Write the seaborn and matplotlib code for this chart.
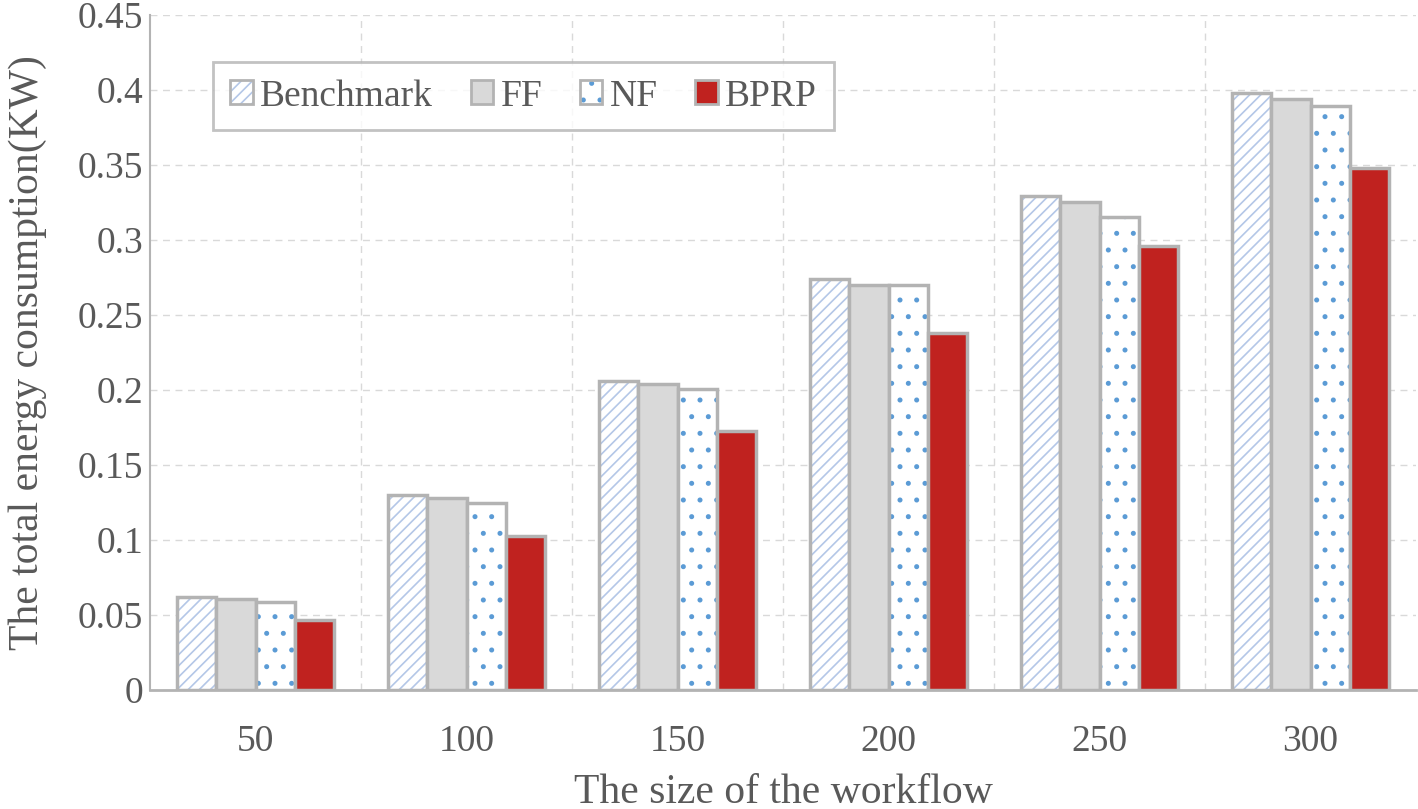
import numpy as np
import pandas as pd
import matplotlib
matplotlib.use("Agg")
import matplotlib.pyplot as plt
from matplotlib.patches import Patch
from matplotlib.colors import to_rgba
import seaborn as sns

sizes = ["50", "100", "150", "200", "250", "300"]
methods = ["Benchmark", "FF", "NF", "BPRP"]
benchmark = [0.062, 0.130, 0.206, 0.274, 0.329, 0.398]
ff = [0.061, 0.128, 0.204, 0.270, 0.325, 0.394]
nf = [0.059, 0.125, 0.201, 0.270, 0.315, 0.389]
bprp = [0.047, 0.103, 0.173, 0.238, 0.296, 0.348]
yticks = [0, 0.05, 0.1, 0.15, 0.2, 0.25, 0.3, 0.35, 0.4, 0.45]

df = pd.DataFrame({
    "size": sizes * 4,
    "method": sum([[m] * len(sizes) for m in methods], []),
    "value": benchmark + ff + nf + bprp,
})

sns.set_theme(style="white")
plt.rcParams["font.family"] = ["Liberation Serif", "DejaVu Serif"]
plt.rcParams["hatch.linewidth"] = 1.2
txt = "#595959"
edge = "#b3b3b3"

fig = plt.figure(figsize=(14.18, 8.09), dpi=100)
ax = fig.add_axes([0.1058, 0.147, 0.8928, 0.8345])

face = {"Benchmark": "white", "FF": "#d9d9d9", "NF": "white", "BPRP": "#c0221f"}
hatch = {"Benchmark": "///", "FF": "", "NF": ".", "BPRP": ""}
hcol = {"Benchmark": "#b4c7e7", "FF": "#d9d9d9", "NF": "#5b9bd5", "BPRP": "#c0221f"}

sns.barplot(data=df, x="size", y="value", hue="method", order=sizes,
            hue_order=methods, width=0.74, gap=0, palette=face,
            edgecolor=edge, linewidth=2.5, ax=ax, legend=False, saturation=1)

for i, cont in enumerate(ax.containers):
    m = methods[i]
    for p in cont:
        p.set_facecolor(face[m])
        p.set_edgecolor(edge)
        p.set_linewidth(2.5)
        if hatch[m]:
            p.set_hatch(hatch[m])
            p._hatch_color = to_rgba(hcol[m])

ax.set_xlim(-0.5, 5.5)
ax.set_ylim(0, 0.45)
ax.set_yticks(yticks)
ax.set_yticklabels([f"{v:g}" for v in yticks])
ax.set_xticks(range(len(sizes)))
ax.set_xticklabels(sizes)
ax.set_xticks(np.arange(0.5, 5.5, 1.0), minor=True)
ax.grid(axis="y", which="major", color="#d9d9d9", linestyle=(0, (5, 4)), linewidth=1)
ax.grid(axis="x", which="minor", color="#d9d9d9", linestyle=(0, (5, 4)), linewidth=1)
ax.grid(axis="x", which="major", visible=False)
ax.set_axisbelow(True)
ax.tick_params(axis="both", which="both", length=0, labelsize=27, colors=txt)
ax.tick_params(axis="x", pad=25)
ax.tick_params(axis="y", pad=5)

for s in ["top", "right"]:
    ax.spines[s].set_visible(False)
ax.spines["left"].set_color(edge)
ax.spines["left"].set_linewidth(1.5)
ax.spines["bottom"].set_color(edge)
ax.spines["bottom"].set_linewidth(2)

ax.set_xlabel("The size of the workflow", fontsize=30, color=txt, labelpad=10)
ax.set_ylabel("The total energy consumption(KW)", fontsize=30, color=txt, labelpad=22)

handles = []
for m in methods:
    h = Patch(facecolor=face[m], edgecolor=edge, linewidth=2, hatch=hatch[m] or None, label=m)
    if hatch[m]:
        h._hatch_color = to_rgba(hcol[m])
    handles.append(h)
leg = ax.legend(handles=handles, loc="upper left", bbox_to_anchor=(0.05, 0.93), ncol=4,
                fontsize=27, frameon=True, fancybox=False, edgecolor=edge,
                handlelength=0.6, handleheight=0.6, handletextpad=0.2,
                columnspacing=1.0, borderpad=0.45, borderaxespad=0)
leg.get_frame().set_linewidth(2)
for t in leg.get_texts():
    t.set_color(txt)

fig.savefig("out.png", dpi=100)
